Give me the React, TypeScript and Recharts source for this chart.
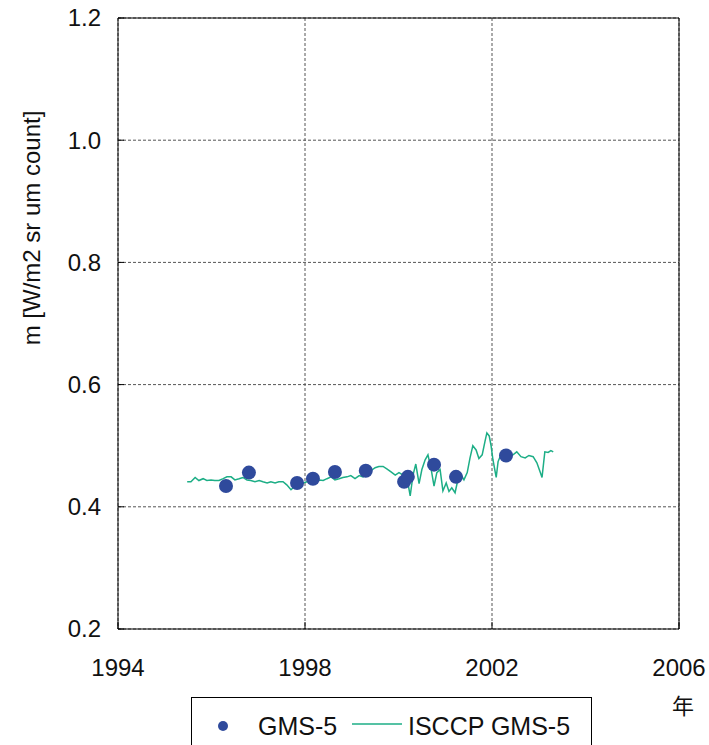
import { CartesianGrid, ComposedChart, Line, ReferenceLine, Scatter, XAxis, YAxis } from "recharts";

// calibration points (GMS-5)
const gmsYears = [1996.31, 1996.8, 1997.83, 1998.17, 1998.64, 1999.3, 2000.12, 2000.2, 2000.76, 2001.23, 2002.3];
const gmsValues = [0.434, 0.456, 0.439, 0.446, 0.457, 0.459, 0.441, 0.449, 0.469, 0.449, 0.484];

// ISCCP GMS-5 time series
const isccpYears = [
  1995.48, 1995.56, 1995.65, 1995.73, 1995.82, 1995.9, 1995.99, 1996.07, 1996.16, 1996.25,
  1996.33, 1996.42, 1996.5, 1996.59, 1996.67, 1996.76, 1996.84, 1996.93, 1997.02, 1997.1,
  1997.19, 1997.27, 1997.36, 1997.44, 1997.53, 1997.61, 1997.7, 1997.79, 1997.87, 1997.96,
  1998.04, 1998.13, 1998.21, 1998.3, 1998.39, 1998.47, 1998.56, 1998.64, 1998.73, 1998.81,
  1998.9, 1998.98, 1999.07, 1999.16, 1999.24, 1999.33, 1999.41, 1999.5, 1999.58, 1999.67,
  1999.75, 1999.84, 1999.93, 2000.01, 2000.1, 2000.18, 2000.25, 2000.31, 2000.37, 2000.44,
  2000.5, 2000.57, 2000.63, 2000.7, 2000.76, 2000.82, 2000.89, 2000.95, 2001.02, 2001.08,
  2001.14, 2001.21, 2001.27, 2001.34, 2001.4, 2001.47, 2001.53, 2001.59, 2001.66, 2001.72,
  2001.79, 2001.85, 2001.89, 2001.94, 2001.98, 2002.02, 2002.09, 2002.13, 2002.19, 2002.28,
  2002.36, 2002.45, 2002.53, 2002.62, 2002.71, 2002.79, 2002.88, 2002.96, 2003.03, 2003.07,
  2003.13, 2003.2, 2003.26, 2003.31,
];
const isccpValues = [
  0.441, 0.441, 0.448, 0.443, 0.446, 0.443, 0.444, 0.443, 0.443, 0.446,
  0.449, 0.449, 0.444, 0.446, 0.448, 0.444, 0.443, 0.441, 0.443, 0.441,
  0.439, 0.441, 0.439, 0.441, 0.441, 0.436, 0.428, 0.434, 0.439, 0.439,
  0.441, 0.441, 0.443, 0.444, 0.443, 0.446, 0.449, 0.444, 0.446, 0.448,
  0.449, 0.451, 0.446, 0.451, 0.449, 0.454, 0.459, 0.464, 0.466, 0.466,
  0.462, 0.457, 0.452, 0.456, 0.452, 0.448, 0.418, 0.452, 0.47, 0.438,
  0.461, 0.477, 0.485, 0.461, 0.434, 0.456, 0.461, 0.426, 0.439, 0.425,
  0.431, 0.423, 0.444, 0.452, 0.444, 0.456, 0.48, 0.5, 0.493, 0.479,
  0.485, 0.507, 0.521, 0.516, 0.5, 0.477, 0.448, 0.474, 0.485, 0.484,
  0.485, 0.485, 0.49, 0.482, 0.48, 0.484, 0.482, 0.472, 0.457, 0.448,
  0.49, 0.489, 0.492, 0.49,
];

const xTicks = [1994, 1998, 2002, 2006];
const yTicks = [0.2, 0.4, 0.6, 0.8, 1.0, 1.2];

const gmsData = gmsYears.map((year, i) => ({ year, value: gmsValues[i] }));
const isccpData = isccpYears.map((year, i) => ({ year, value: isccpValues[i] }));

const W = 709;
const H = 745;
const PLOT_LEFT = 118;
const PLOT_BOTTOM = 629;
const FONT = "'Liberation Sans', Arial, sans-serif";
const DOT = "#2f4a9c";
const LINE = "#1dae86";

function YTick({ y, payload }: any) {
  return (
    <g>
      <line x1={PLOT_LEFT} x2={PLOT_LEFT + 6} y1={y} y2={y} stroke="#000" />
      <text x={101} y={y} dy="0.35em" textAnchor="end" fontSize={24} fontFamily={FONT} fill="#111">
        {Number(payload.value).toFixed(1)}
      </text>
    </g>
  );
}

function XTick({ x, payload }: any) {
  return (
    <g>
      <line x1={x} x2={x} y1={PLOT_BOTTOM} y2={PLOT_BOTTOM - 7} stroke="#000" />
      <text x={x} y={668} dy="0.35em" textAnchor="middle" fontSize={24} fontFamily={FONT} fill="#111">
        {payload.value}
      </text>
    </g>
  );
}

function YTitle() {
  return (
    <text
      x={32}
      y={228}
      transform="rotate(-90, 32, 228)"
      dy="0.35em"
      textAnchor="middle"
      fontSize={24}
      fontFamily={FONT}
      fill="#111"
    >
      m [W/m2 sr um count]
    </text>
  );
}

function GmsDot({ cx, cy }: any) {
  return <circle cx={cx} cy={cy} r={7} fill={DOT} />;
}

export default function App() {
  return (
    <div style={{ position: "absolute", left: 0, top: 0, width: W, height: H, overflow: "hidden", background: "#fff" }}>
      <ComposedChart width={W} height={H} margin={{ top: 18, right: 30, left: 0, bottom: 0 }}>
        <CartesianGrid stroke="#555" strokeDasharray="3 2" />
        <XAxis
          type="number"
          dataKey="year"
          domain={[1994, 2006]}
          ticks={xTicks}
          height={116}
          axisLine={{ stroke: "#000" }}
          tickLine={false}
          tick={<XTick />}
          allowDataOverflow
        />
        <YAxis
          type="number"
          dataKey="value"
          domain={[0.2, 1.2]}
          ticks={yTicks}
          width={118}
          axisLine={{ stroke: "#000" }}
          tickLine={false}
          tick={<YTick />}
          label={<YTitle />}
          allowDataOverflow
        />
        <ReferenceLine y={1.2} stroke="#000" />
        <ReferenceLine x={2006} stroke="#000" />
        <Line
          data={isccpData}
          dataKey="value"
          stroke={LINE}
          strokeWidth={1.5}
          dot={false}
          activeDot={false}
          isAnimationActive={false}
        />
        <Scatter data={gmsData} dataKey="value" shape={<GmsDot />} isAnimationActive={false} />
      </ComposedChart>

      <svg width={W} height={H} style={{ position: "absolute", left: 0, top: 0, pointerEvents: "none" }}>
        <text x={683} y={706} dy="0.35em" textAnchor="middle" fontSize={22} fontFamily="'Noto Sans CJK JP', sans-serif" fill="#111">
          年
        </text>
        <rect x={191.5} y={697.5} width={400} height={80} fill="#fff" stroke="#000" />
        <circle cx={223} cy={726} r={5} fill={DOT} />
        <text x={258} y={726} dy="0.35em" fontSize={25} fontFamily={FONT} fill="#111">
          GMS-5
        </text>
        <line x1={352} x2={402} y1={724} y2={724} stroke={LINE} strokeWidth={1.5} />
        <text x={408} y={726} dy="0.35em" fontSize={25} fontFamily={FONT} fill="#111">
          ISCCP GMS-5
        </text>
      </svg>
    </div>
  );
}
